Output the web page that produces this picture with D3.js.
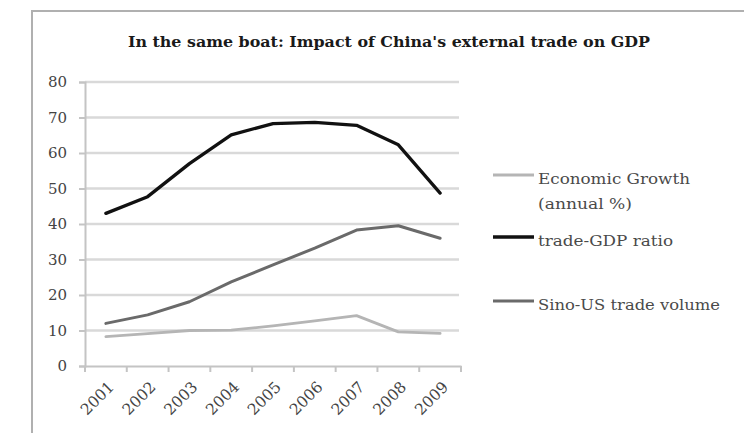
<!DOCTYPE html>
<html><head><meta charset="utf-8">
<script src="https://cdn.jsdelivr.net/npm/d3@7"></script>
<style>body{margin:0;background:#fff}svg{display:block}</style>
</head><body>
<script>
const years = ["2001","2002","2003","2004","2005","2006","2007","2008","2009"];
const economicGrowth = [8.3, 9.1, 10.0, 10.1, 11.3, 12.7, 14.2, 9.6, 9.2];
const tradeGDP = [43.0, 47.7, 57.0, 65.1, 68.3, 68.6, 67.8, 62.3, 48.7];
const sinoUS = [12.0, 14.4, 18.1, 23.7, 28.5, 33.2, 38.3, 39.5, 36.0];
const yTicks = [0,10,20,30,40,50,60,70,80];
const seriesNames = [["Economic Growth","(annual %)"],["trade-GDP  ratio"],["Sino-US trade volume"]];

const W=744,H=433;
const svg=d3.select("body").append("svg").attr("width",W).attr("height",H);
svg.append("rect").attr("x",32).attr("y",11).attr("width",760).attr("height",460)
  .attr("fill","#fff").attr("stroke","#b0b0b0").attr("stroke-width",2);

const font="DejaVu Serif, Liberation Serif, serif";
svg.append("text").attr("x",389).attr("y",47).attr("text-anchor","middle")
  .attr("font-family",font).attr("font-weight","bold")
  .attr("font-size",14.5).attr("fill","#1a1a1a").attr("textLength",522).attr("lengthAdjust","spacingAndGlyphs")
  .text("In the same boat: Impact of China's external trade on GDP");

const x=d3.scaleBand().domain(years).range([85,461]);
const y=d3.scaleLinear().domain([0,80]).range([366,82]);

svg.append("g").selectAll("line").data(yTicks.filter(d=>d>0)).join("line")
  .attr("x1",85).attr("x2",459).attr("y1",d=>y(d)).attr("y2",d=>y(d))
  .attr("stroke","#d9d9d9").attr("stroke-width",2.5);

const yAxis=svg.append("g").attr("transform","translate(85,0)")
  .call(d3.axisLeft(y).tickValues(yTicks).tickSize(6).tickPadding(12).tickFormat(d3.format("d")));
yAxis.select(".domain").attr("stroke","#c4c4c4").attr("stroke-width",2);
yAxis.selectAll(".tick line").attr("stroke","#c4c4c4").attr("stroke-width",2);
yAxis.selectAll("text").attr("font-family",font).attr("font-size",15).attr("fill","#444");

const xAxis=svg.append("g").attr("transform","translate(0,366)")
  .call(d3.axisBottom(x).tickSize(0).tickPadding(0));
xAxis.select(".domain").attr("stroke","#c4c4c4").attr("stroke-width",2);
svg.append("g").selectAll("line").data(d3.range(years.length+1)).join("line")
  .attr("x1",i=>x.range()[0]+i*x.step()).attr("x2",i=>x.range()[0]+i*x.step())
  .attr("y1",366).attr("y2",372).attr("stroke","#c4c4c4").attr("stroke-width",2);
xAxis.selectAll("text").attr("font-family",font).attr("font-size",15.5).attr("fill","#444")
  .attr("text-anchor","end").attr("dy",0)
  .attr("transform","translate(9,22) rotate(-45)");

const line=d3.line().x((d,i)=>x(years[i])+x.bandwidth()/2).y(d=>y(d));
const series=[
  {v:economicGrowth,c:"#b5b5b5",w:2.8},
  {v:tradeGDP,c:"#111",w:3.3},
  {v:sinoUS,c:"#6a6a6a",w:3}
];
series.forEach(s=>{
  svg.append("path").attr("d",line(s.v)).attr("fill","none")
    .attr("stroke",s.c).attr("stroke-width",s.w).attr("stroke-linejoin","round").attr("stroke-linecap","round");
});

const legY=[175,237,301];
const legW=[[152,94],[135],[182]];
series.forEach((s,i)=>{
  svg.append("line").attr("x1",493).attr("x2",534).attr("y1",legY[i]).attr("y2",legY[i])
    .attr("stroke",s.c).attr("stroke-width",s.w);
  seriesNames[i].forEach((n,j)=>{
    svg.append("text").attr("x",538).attr("y",legY[i]+9+j*25)
      .attr("font-family",font).attr("font-size",14.5).attr("fill","#4a4a4a")
      .attr("textLength",legW[i][j]).attr("lengthAdjust","spacingAndGlyphs").text(n);
  });
});
</script>
</body></html>
